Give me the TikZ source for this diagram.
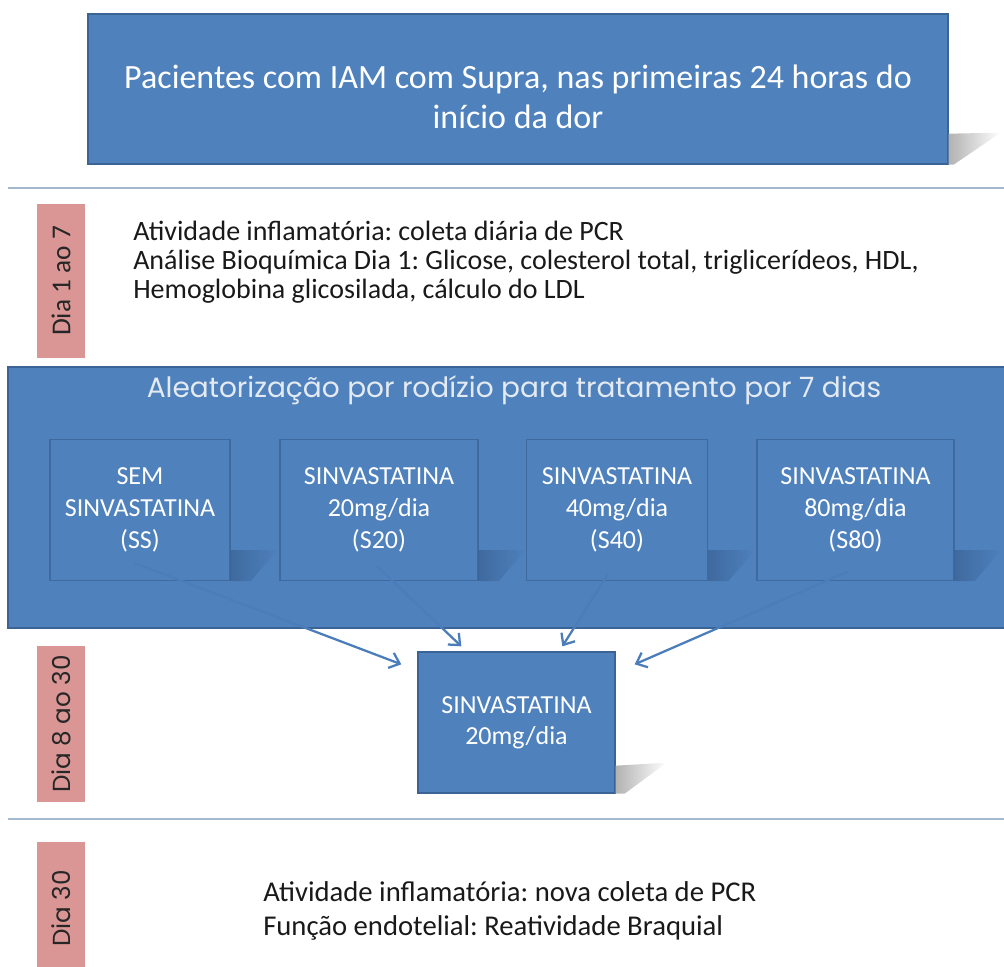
\documentclass[tikz,border=0pt]{standalone}
\usepackage{fontspec}
\setmainfont{Carlito}
\newfontfamily\gothic{Poppins}
\usetikzlibrary{calc}
\usetikzlibrary{arrows.meta}
\usetikzlibrary{fadings}
\frenchspacing

\definecolor{boxblue}{HTML}{4F81BD}
\definecolor{boxedge}{HTML}{3A6396}
\definecolor{armedge}{HTML}{3F6A9F}
\definecolor{daypink}{HTML}{D99694}
\definecolor{rulecolor}{HTML}{A4B9CF}
\definecolor{arrowblue}{HTML}{4A7DBA}
\definecolor{shadowblue}{HTML}{2B4E7B}
\definecolor{titlegray}{HTML}{E4EAF2}

\begin{document}
\begin{tikzpicture}[x=0.75pt,y=-0.75pt,
    bluebox/.style={draw=boxedge, line width=1pt, fill=boxblue, text=white, align=center, inner sep=0pt},
    armbox/.style={bluebox, draw=armedge, minimum height=105.75pt, font=\fontsize{19.5}{24}\selectfont},
    daylabel/.style={fill=daypink, rotate=90, minimum height=36pt, inner sep=0pt, text=black!85, font=\fontsize{20.5}{22}\selectfont},
    bodytext/.style={align=left, inner sep=0pt, text=black!90, font=\fontsize{21}{21.75}\selectfont},
    rule/.style={draw=rulecolor, line width=1.5pt},
    flow/.style={draw=arrowblue, line width=1.7pt, -{Straight Barb[length=7pt,width=12pt,line width=1.7pt]}},
    greyshadow/.style={fill=black!30, path fading=east},
    armshadow/.style={fill=shadowblue, fill opacity=0.45, path fading=east}
]
    \useasboundingbox (0,0) rectangle (1004,967);

    % patients
    \node[bluebox, minimum width=645pt, minimum height=112.5pt] (pat) at (518,89) {};
    \node[text=white, align=center, inner sep=0pt, font=\fontsize{25.5}{30}\selectfont] (pattext) at ([yshift=-6pt]pat.center)
        {Pacientes com IAM com Supra, nas primeiras 24 horas do\\ início da dor};
    \fill[greyshadow] ($(pat.south east)+(0,-31)$) -- ($(pat.south east)+(52,-32)$) -- ($(pat.south east)+(5,0)$) -- (pat.south east) -- cycle;

    \draw[rule] (8,188) -- (1004,188);

    % day 1 to 7
    \node[daylabel, minimum width=115.5pt] (d1) at (61,281) {Dia 1 ao 7};
    \node[bodytext, anchor=west] (coleta) at (133,262)
        {Atividade inflamatória: coleta diária de PCR\\
         Análise Bioquímica Dia 1: Glicose, colesterol total, triglicerídeos, HDL,\\
         Hemoglobina glicosilada, cálculo do LDL};

    % randomisation
    \filldraw[fill=boxblue, draw=boxedge, line width=1pt] (8,367) rectangle (1012,628);
    \node[text=titlegray, inner sep=0pt, font=\gothic\fontsize{21}{24}\selectfont] (rand) at (514,390)
        {Aleatorização por rodízio para tratamento por 7 dias};

    \node[armbox, minimum width=135pt] (ss) at (140,510) {SEM\\ SINVASTATINA\\ (SS)};
    \node[armbox, minimum width=148.5pt] (s20) at (379,510) {SINVASTATINA\\ 20mg/dia\\ (S20)};
    \node[armbox, minimum width=135.75pt] (s40) at (617,510) {SINVASTATINA\\ 40mg/dia\\ (S40)};
    \node[armbox, minimum width=147.75pt] (s80) at (855.5,510) {SINVASTATINA\\ 80mg/dia\\ (S80)};
    \foreach \b in {ss,s20,s40,s80}
        \fill[armshadow] ($(\b.south east)+(0,-31)$) -- ($(\b.south east)+(47,-31)$) -- ($(\b.south east)+(20,0)$) -- (\b.south east) -- cycle;

    % day 8 to 30
    \node[daylabel, font=\gothic\fontsize{18.5}{20}\selectfont, minimum width=117pt] (d8) at (61,724) {Dia 8 ao 30};
    \node[bluebox, minimum width=147.75pt, minimum height=105.75pt, font=\fontsize{19.5}{23.25}\selectfont] (sinv) at (516.5,722.5)
        {SINVASTATINA\\ 20mg/dia};
    \fill[greyshadow] ($(sinv.south east)+(0,-28)$) -- ($(sinv.south east)+(51,-31)$) -- ($(sinv.south east)+(9,0)$) -- (sinv.south east) -- cycle;

    \draw[flow] ($(ss.south)+(-5,-18)$) -- ($(sinv.north west)+(-16,13)$);
    \draw[flow] ($(s20.south)+(-2,-15)$) -- ($(sinv.north west)+(44,-5)$);
    \draw[flow] ($(s40.south)+(-9,-7)$) -- ($(sinv.north west)+(145,-5)$);
    \draw[flow] ($(s80.south)+(-7,-10)$) -- ($(sinv.north east)+(19,13)$);

    \draw[rule] (8,819) -- (1004,819);

    % day 30
    \node[daylabel, font=\gothic\fontsize{18.5}{20}\selectfont, minimum width=99.75pt] (d30) at (61,908.5) {Dia 30};
    \node[bodytext, anchor=west, font=\fontsize{21.5}{25.5}\selectfont] (final) at (263,911)
        {Atividade inflamatória: nova coleta de PCR\\
         Função endotelial: Reatividade Braquial};
\end{tikzpicture}
\end{document}
